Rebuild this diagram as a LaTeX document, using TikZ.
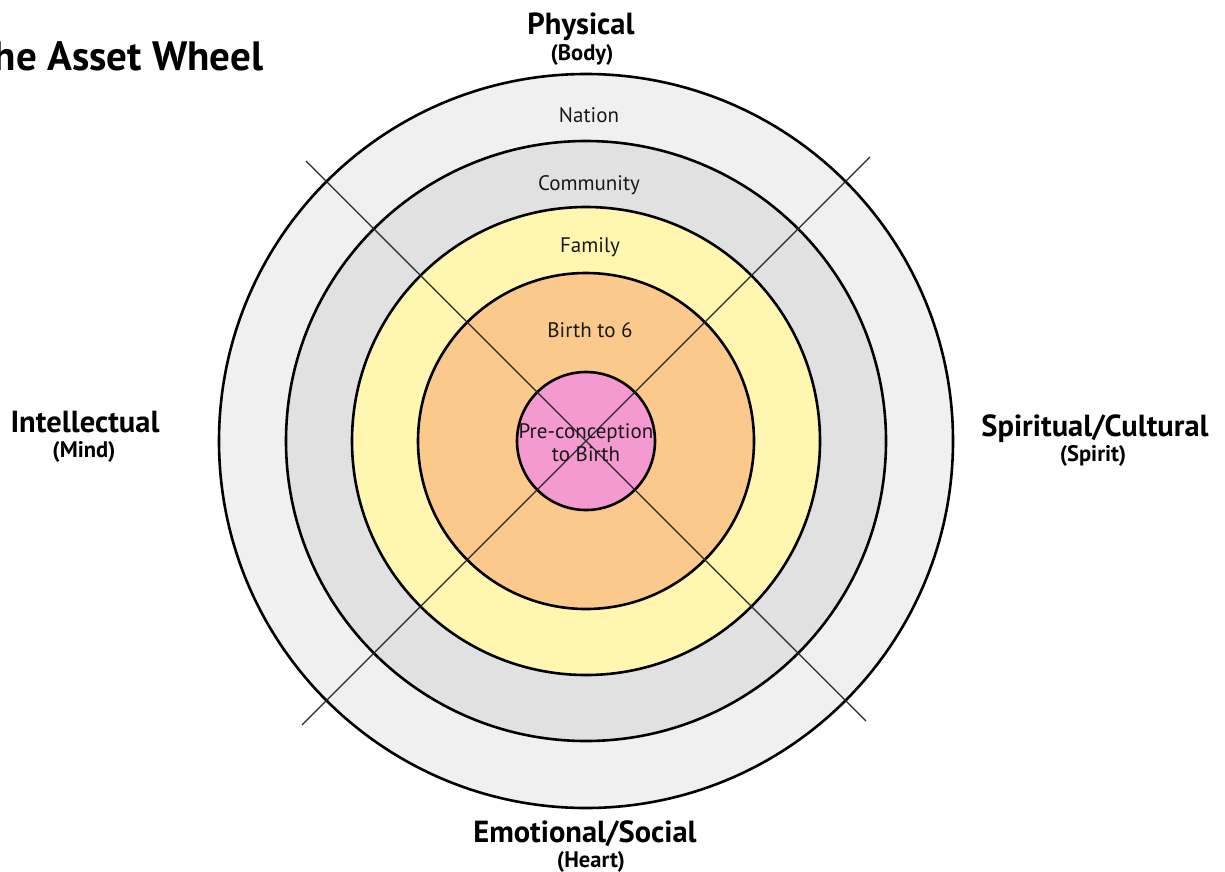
\documentclass[tikz,border=0pt]{standalone}
\usepackage{fontspec}
\setmainfont{PT Sans}
\definecolor{nationfill}{RGB}{240,240,240}
\definecolor{communityfill}{RGB}{225,225,225}
\definecolor{familyfill}{RGB}{255,247,176}
\definecolor{birthfill}{RGB}{251,201,140}
\definecolor{corefill}{RGB}{244,154,208}
\begin{document}
\begin{tikzpicture}[x=1pt,y=-1pt,
  ring/.style={circle, draw=black, line width=2.6pt, inner sep=0pt, outer sep=0pt},
  spoke/.style={draw=black!85, line width=1.3pt},
  ringlabel/.style={anchor=base, font=\fontsize{21}{23}\selectfont, text=black!90},
  axislabel/.style={anchor=base, font=\bfseries\fontsize{30.5}{32}\selectfont},
  axissub/.style={anchor=base, font=\bfseries\fontsize{22.5}{24}\selectfont}]
  \useasboundingbox (0,0) rectangle (1225,871);
  \clip (0,0) rectangle (1225,871);

  % title, running off the left edge
  \node[anchor=base east, font=\bfseries\fontsize{41}{43}\selectfont] (title) at (267,70) {The Asset Wheel};

  % concentric rings, outermost first
  \node[ring, fill=nationfill,    minimum size=734pt] (nation)    at (586,441) {};
  \node[ring, fill=communityfill, minimum size=600pt] (community) at (586,441) {};
  \node[ring, fill=familyfill,    minimum size=468pt] (family)    at (586,441) {};
  \node[ring, fill=birthfill,     minimum size=336pt] (birth)     at (586,441) {};
  \node[ring, fill=corefill,      minimum size=138pt] (core)      at (586,441) {};

  % diagonal spokes
  \coordinate (ul) at (306,161);
  \coordinate (lr) at (866,721);
  \coordinate (ur) at (870,157);
  \coordinate (ll) at (302,725);
  \draw[spoke] (ul) -- (lr);
  \draw[spoke] (ur) -- (ll);

  % ring labels
  \node[ringlabel] (nationlbl)    at (589,122) {Nation};
  \node[ringlabel] (communitylbl) at (589,190) {Community};
  \node[ringlabel] (familylbl)    at (590,252) {Family};
  \node[ringlabel] (birthlbl)     at (590,337) {Birth to 6};
  \node[ringlabel, anchor=center, align=center] (corelbl) at (586,443) {Pre-conception\\to Birth};

  % the four dimensions
  \node[axislabel] (phys)    at (581,34)  {Physical};
  \node[axissub]   (physsub) at (582,60)  {(Body)};
  \node[axislabel] (intel)    at (85,432)  {Intellectual};
  \node[axissub]   (intelsub) at (84,457)  {(Mind)};
  \node[axislabel] (spirit)    at (1095,436) {Spiritual/Cultural};
  \node[axissub]   (spiritsub) at (1093,461) {(Spirit)};
  \node[axislabel] (emot)    at (585,842) {Emotional/Social};
  \node[axissub]   (emotsub) at (591,867) {(Heart)};
\end{tikzpicture}
\end{document}
